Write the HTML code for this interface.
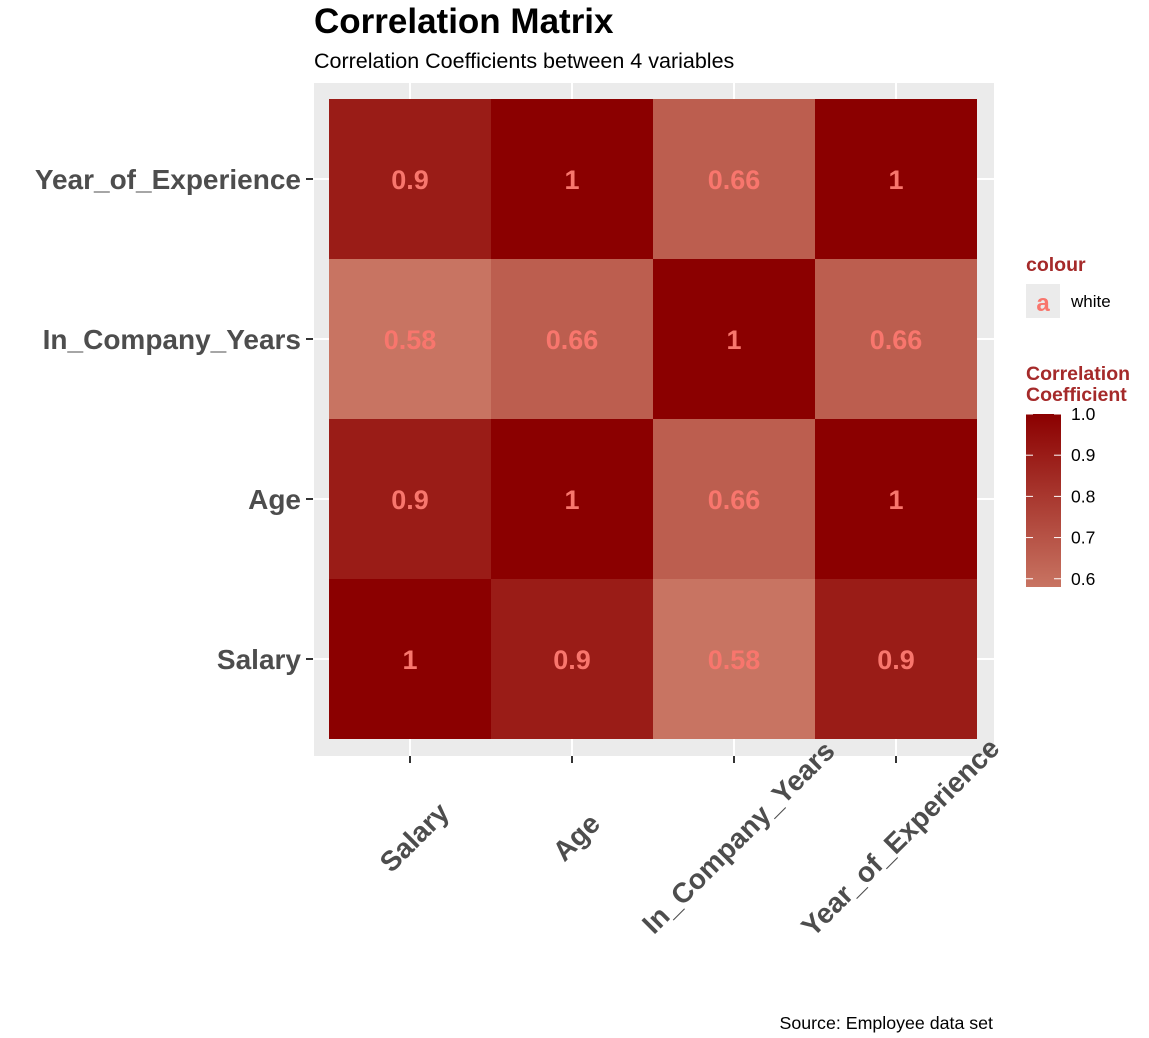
<!DOCTYPE html>
<html><head><meta charset="utf-8"><style>
body{margin:0;background:#fff;}
svg text{font-family:"Liberation Sans",Arial,sans-serif;}
</style></head><body>
<svg id="c" width="1149" height="1033" xmlns="http://www.w3.org/2000/svg">
<text x="314" y="33" font-size="35" font-weight="bold" fill="#000">Correlation Matrix</text>
<text x="314" y="68" font-size="21.5" fill="#000">Correlation Coefficients between 4 variables</text>
<rect x="314" y="83" width="680" height="673" fill="#EBEBEB"/>
<g id="grid"></g><g id="tiles"></g><g id="axes"></g>
<text x="993" y="1029" font-size="17.8" text-anchor="end" fill="#000">Source: Employee data set</text>
<g>
<text x="1026" y="271" font-size="19.5" font-weight="bold" fill="#A52A2A">colour</text>
<rect x="1026" y="284" width="34" height="34" fill="#EBEBEB"/>
<text x="1043" y="311" font-size="24" font-weight="bold" fill="#F8766D" text-anchor="middle">a</text>
<text x="1071" y="307" font-size="17" fill="#000">white</text>
</g>
<g id="legend">
<text x="1026" y="380" font-size="19.5" font-weight="bold" fill="#A52A2A">Correlation</text>
<text x="1026" y="401" font-size="19.5" font-weight="bold" fill="#A52A2A">Coefficient</text>
<defs><linearGradient id="gr" x1="0" y1="1" x2="0" y2="0"><stop offset="0" stop-color="#C87462"/><stop offset="1" stop-color="#8B0000"/></linearGradient></defs>
<rect x="1026" y="414" width="35" height="173" fill="url(#gr)"/>
</g>
</svg>
<script>
const vars = ["Salary","Age","In_Company_Years","Year_of_Experience"];
const corr = [
 [1,0.9,0.58,0.9],
 [0.9,1,0.66,1],
 [0.58,0.66,1,0.66],
 [0.9,1,0.66,1]
];
const legendTicks = [0.6,0.7,0.8,0.9,1.0];
const NS="http://www.w3.org/2000/svg";
const x0=329, tw=162, yb=739, th=160;
const xc=i=>x0+tw*i+tw/2;
const yc=j=>yb-th*j-th/2;
const lo=0.58, hi=1;
function col(v){const t=Math.max(0,Math.min(1,(v-lo)/(hi-lo)));
 const r=Math.round(200+(139-200)*t),g=Math.round(116*(1-t)),b=Math.round(98*(1-t));return `rgb(${r},${g},${b})`;}
function mk(tag,attrs,parent,text){const e=document.createElementNS(NS,tag);for(const k in attrs)e.setAttribute(k,attrs[k]);if(text!==undefined)e.textContent=text;parent.appendChild(e);return e;}
const grid=document.getElementById('grid'),tiles=document.getElementById('tiles'),axes=document.getElementById('axes');
vars.forEach((v,i)=>{
 let g=mk('line',{x1:xc(i),x2:xc(i),y1:83,y2:756,stroke:'#fff','stroke-width':2},grid);
 
 
 g=mk('line',{x1:314,x2:994,y1:yc(i),y2:yc(i),stroke:'#fff','stroke-width':2},grid);
 
 
});
corr.forEach((row,j)=>row.forEach((val,i)=>{
 const r=mk('rect',{x:x0+tw*i,y:yb-th*(j+1),width:tw,height:th,fill:col(val)},tiles);
 
 
 const t=mk('text',{x:xc(i),y:yc(j)+10,'text-anchor':'middle','font-size':27,'font-weight':'bold',fill:'#F8766D'},tiles,String(val));
 
 
}));
vars.forEach((v,i)=>{
 let e=mk('line',{x1:306,x2:313,y1:yc(i),y2:yc(i),stroke:'#333','stroke-width':2},axes);
 
 
 e=mk('text',{x:301,y:yc(i)+10,'text-anchor':'end','font-size':28,'font-weight':'bold',fill:'#4D4D4D'},axes,v);
 
 
 e=mk('line',{x1:xc(i),x2:xc(i),y1:756,y2:763,stroke:'#333','stroke-width':2},axes);
 
 
 const cx=xc(i)+4, cy=837;
 e=mk('text',{x:cx,y:cy+10,'text-anchor':'middle','font-size':28,'font-weight':'bold',fill:'#4D4D4D',transform:`rotate(-45 ${cx} ${cy})`},axes,v);
 
 
});
const lg=document.getElementById('legend');
const ly=v=>587-(v-lo)/(hi-lo)*173;
legendTicks.forEach(v=>{
 let e=mk('line',{x1:1026,x2:1033,y1:ly(v),y2:ly(v),stroke:'#fff','stroke-width':1},lg);
 
 
 e=mk('line',{x1:1054,x2:1061,y1:ly(v),y2:ly(v),stroke:'#fff','stroke-width':1},lg);
 
 
 e=mk('text',{x:1071,y:ly(v)+6,'font-size':17.5,fill:'#000'},lg,v.toFixed(1));
 
 
});
</script>
</body></html>
